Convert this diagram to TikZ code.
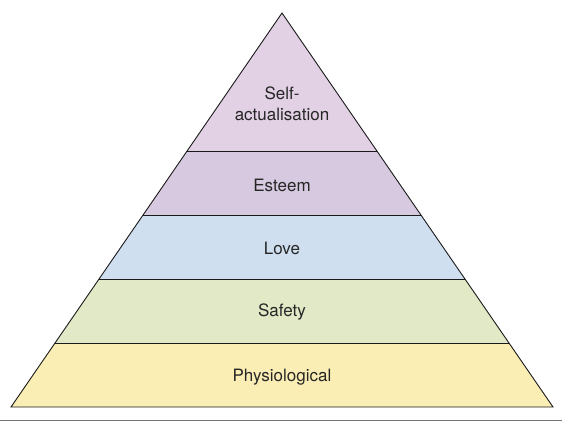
\documentclass[tikz,border=0pt]{standalone}
\usepackage{fontspec}
\setmainfont{TeX Gyre Heros}
\definecolor{cself}{HTML}{E2D0E4}
\definecolor{cest}{HTML}{D7C9DF}
\definecolor{clove}{HTML}{CFDFF0}
\definecolor{csafe}{HTML}{E1E9C7}
\definecolor{cphys}{HTML}{FAEEB4}
\definecolor{cline}{HTML}{1A1A1A}
\begin{document}
\begin{tikzpicture}[x=1pt,y=-1pt,
  layerline/.style={draw=cline,line width=0.9pt},
  lbl/.style={font=\fontsize{17}{21}\selectfont,text=black!85,align=center,inner sep=0pt}]
\useasboundingbox (0,0) rectangle (562,422);
\coordinate (A) at (282,13);
\coordinate (L1) at (187.1,151); \coordinate (R1) at (376.9,151);
\coordinate (L2) at (143.1,215); \coordinate (R2) at (420.9,215);
\coordinate (L3) at (99.0,279);  \coordinate (R3) at (465.0,279);
\coordinate (L4) at (55.0,343);  \coordinate (R4) at (509.0,343);
\coordinate (L5) at (11,407);    \coordinate (R5) at (553,407);
\fill[cself] (A) -- (L1) -- (R1) -- cycle;
\fill[cest] (L1) -- (L2) -- (R2) -- (R1) -- cycle;
\fill[clove] (L2) -- (L3) -- (R3) -- (R2) -- cycle;
\fill[csafe] (L3) -- (L4) -- (R4) -- (R3) -- cycle;
\fill[cphys] (L4) -- (L5) -- (R5) -- (R4) -- cycle;
\draw[layerline,line join=miter] (A) -- (L5) -- (R5) -- cycle;
\draw[layerline] (L1) -- (R1);
\draw[layerline] (L2) -- (R2);
\draw[layerline] (L3) -- (R3);
\draw[layerline] (L4) -- (R4);
\coordinate (G1) at (0,420.5); \coordinate (G2) at (562,420.5);
\draw[draw=black!55,line width=1.2pt] (G1) -- (G2);
\node[lbl] (self) at (282,103.5) {Self-\\actualisation};
\node[lbl] (est) at (282,185) {Esteem};
\node[lbl] (love) at (282,248.5) {Love};
\node[lbl] (safe) at (282,312.5) {Safety};
\node[lbl] (phys) at (282,377) {Physiological};
\end{tikzpicture}
\end{document}
